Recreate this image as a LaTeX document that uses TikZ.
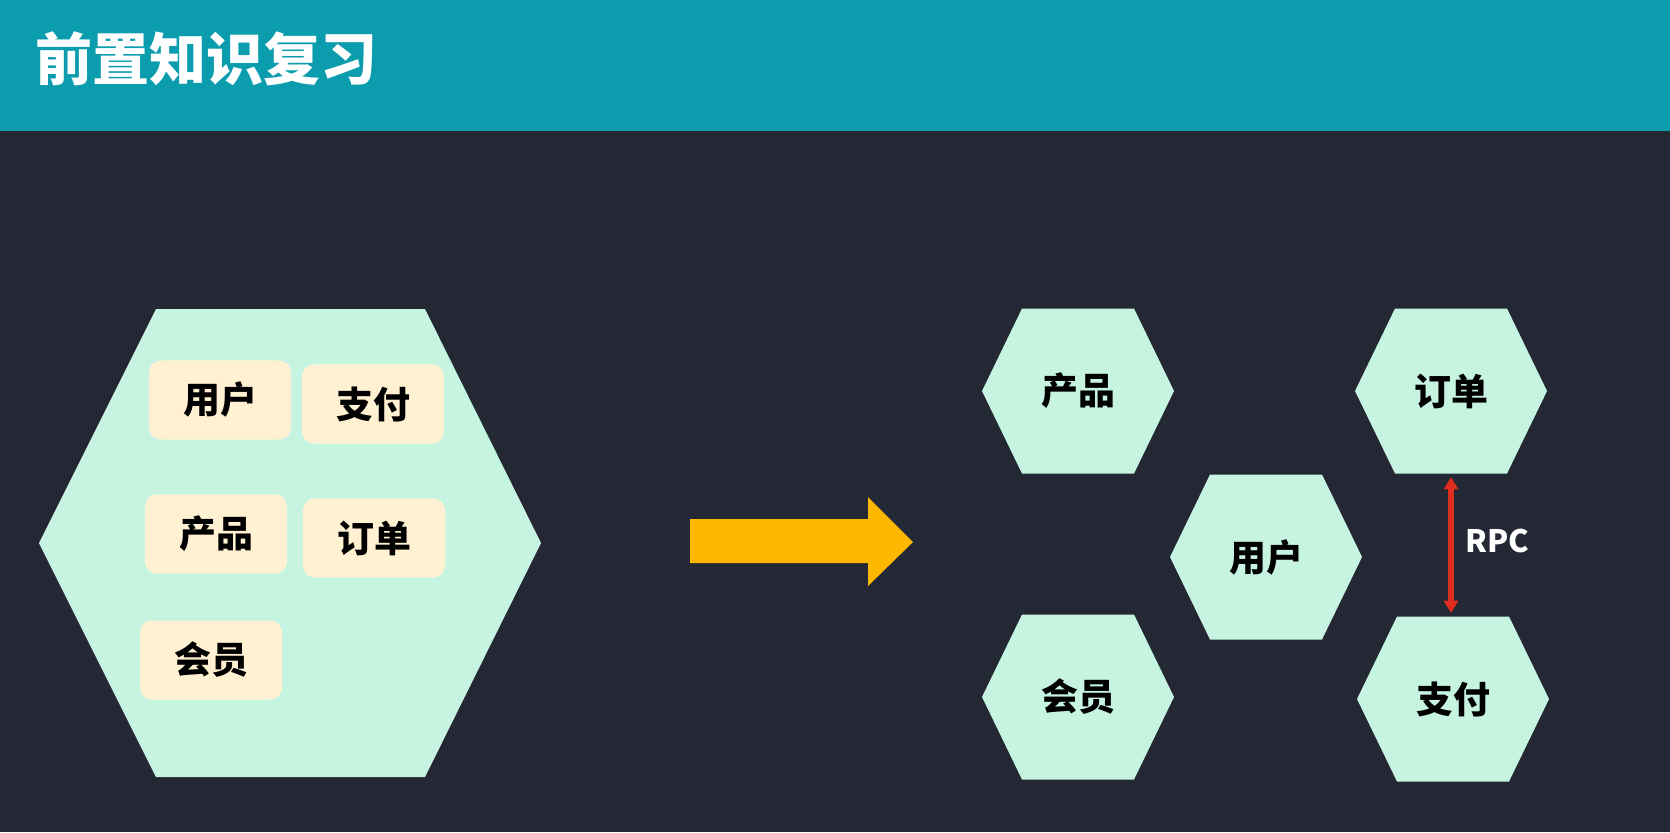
\documentclass[tikz,border=0pt]{standalone}
\usepackage{fontspec}
\setmainfont{Noto Sans CJK SC}
\usetikzlibrary{arrows.meta}

\definecolor{bgdark}{HTML}{232834}
\definecolor{headteal}{HTML}{0B9DAD}
\definecolor{hexmint}{HTML}{C6F4E1}
\definecolor{boxcream}{HTML}{FFF1D2}
\definecolor{arrowamber}{HTML}{FFB800}
\definecolor{rpcred}{HTML}{DE2D1F}

\tikzset{
  svcbox/.style={fill=boxcream,rounded corners=3.4pt,minimum width=1.42cm,minimum height=0.79cm,
    inner sep=0pt,font=\fontsize{10.5}{12}\selectfont\bfseries},
  hexlabel/.style={minimum width=1.92cm,minimum height=1.65cm,inner sep=0pt,
    font=\fontsize{10.5}{12}\selectfont\bfseries},
  rpcline/.style={rpcred,line width=1.5pt,{Triangle[width=4pt,length=3.5pt]}-{Triangle[width=4pt,length=3.5pt]}}
}

\begin{document}
\begin{tikzpicture}[x=0.01cm,y=-0.01cm]
    \useasboundingbox (0,0) rectangle (1670,832);
    \fill[bgdark] (0,0) rectangle (1670,832);
    \fill[headteal] (0,0) rectangle (1670,131);
    \node[anchor=west,text=white,inner sep=0pt,font=\fontsize{16.2}{18}\selectfont\bfseries] (title) at (35,59) {前置知识复习};

    % monolith
    \fill[hexmint] (39,543) -- (156,309) -- (425,309) -- (541,543) -- (425,777) -- (156,777) -- cycle;
    \node[svcbox] (mUser) at (220,400) {用户};
    \node[svcbox] (mPay) at (373,404) {支付};
    \node[svcbox] (mProd) at (216,534) {产品};
    \node[svcbox] (mOrder) at (374,538) {订单};
    \node[svcbox] (mMember) at (211,660) {会员};

    \fill[arrowamber] (690,519) -- (868,519) -- (868,497) -- (913,542) -- (868,586) -- (868,563) -- (690,563) -- cycle;

    % microservices
    \foreach \cx/\cy/\nm/\txt in {1078/391/sProd/产品, 1451/391/sOrder/订单, 1266/557/sUser/用户,
        1078/697/sMember/会员, 1453/699/sPay/支付} {
      \fill[hexmint] (\cx,\cy) ++(-96,0) -- ++(40,-82.5) -- ++(112,0) -- ++(40,82.5)
          -- ++(-40,82.5) -- ++(-112,0) -- cycle;
      \node[hexlabel] (\nm) at (\cx,\cy) {\txt};
    }

    \draw[rpcline,shorten <=0.8pt,shorten >=0.8pt] (sOrder.south) -- (sOrder.south |- sPay.north)
        node[midway,right,text=white,font=\fontsize{8.8}{10}\selectfont\bfseries,yshift=1.2pt] {RPC};
\end{tikzpicture}
\end{document}
